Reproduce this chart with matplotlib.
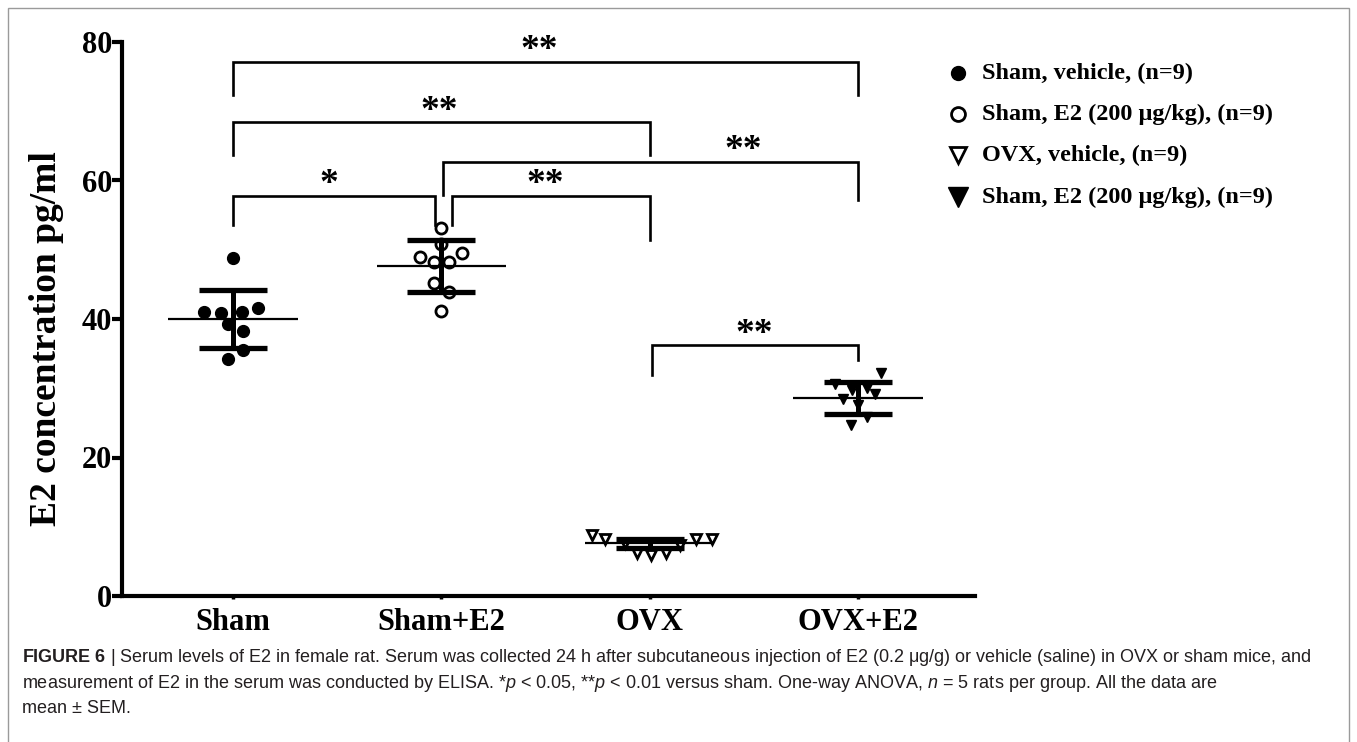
import matplotlib
matplotlib.use("Agg")
import matplotlib.pyplot as plt
from matplotlib.lines import Line2D
from matplotlib.patches import Rectangle
import numpy as np

# ---------------- data ----------------
groups = ["Sham", "Sham+E2", "OVX", "OVX+E2"]

sham_vals = [48.8, 41.0, 40.9, 41.0, 41.6, 39.3, 38.3, 35.5, 34.2]
sham_e2_vals = [53.2, 50.9, 48.9, 48.3, 48.3, 49.5, 45.2, 43.9, 41.2]
ovx_vals = [8.8, 8.2, 6.2, 5.9, 6.2, 8.2, 8.2, 7.6, 7.4]
ovx_e2_vals = [32.2, 30.6, 29.8, 30.0, 29.2, 28.4, 27.6, 25.8, 24.7]

group_means = [40.0, 47.65, 7.6, 28.6]
group_sds = [4.25, 3.7, 0.6, 2.25]

legend_labels = ["Sham, vehicle, (n=9)",
                 "Sham, E2 (200 \u03bcg/kg), (n=9)",
                 "OVX, vehicle, (n=9)",
                 "Sham, E2 (200 \u03bcg/kg), (n=9)"]

# horizontal spread of the dots within each group (layout only)
sham_jitter = [0.0, -0.14, -0.06, 0.045, 0.12, -0.025, 0.05, 0.05, -0.025]
sham_e2_jitter = [0.0, 0.0, -0.1, -0.035, 0.035, 0.1, -0.035, 0.035, 0.0]
ovx_jitter = [-0.275, -0.215, -0.062, 0.005, 0.08, 0.225, 0.30, -0.12, 0.145]
ovx_e2_jitter = [0.11, -0.11, -0.03, 0.045, 0.08, -0.07, 0.0, 0.045, -0.035]

# significance brackets: (x1, x2, bar_y, left_leg_end, right_leg_end, label, label_x)
brackets = [
    (0, 3, 77.1, 72.3, 72.3, "**", 1.47),
    (0, 2, 68.4, 63.7, 63.7, "**", 0.99),
    (1.01, 3, 62.7, 57.9, 57.2, "**", 2.45),
    (0, 0.97, 57.8, 53.6, 53.6, "*", 0.46),
    (1.05, 2, 57.8, 53.6, 51.4, "**", 1.5),
    (2.01, 3, 36.2, 31.9, 34.1, "**", 2.5),
]

caption_lines = [
    "$\\mathbf{FIGURE\\ 6}$ | Serum levels of E2 in female rat. Serum was collected 24 h after subcutaneous "
    "injection of E2 (0.2 \u03bcg/g) or vehicle (saline) in OVX or sham mice, and",
    "measurement of E2 in the serum was conducted by ELISA. *$p$ < 0.05, **$p$ < 0.01 versus sham. "
    "One-way ANOVA, $n$ = 5 rats per group. All the data are",
    "mean \u00b1 SEM.",
]

# ---------------- style ----------------
plt.rcParams["font.family"] = ["Liberation Serif", "DejaVu Serif"]
plt.rcParams["mathtext.fontset"] = "custom"
plt.rcParams["mathtext.rm"] = "Liberation Sans"
plt.rcParams["mathtext.it"] = "Liberation Sans:italic"
plt.rcParams["mathtext.bf"] = "Liberation Sans:bold"

W, H = 1357, 742
fig = plt.figure(figsize=(W / 100, H / 100), dpi=100)
ax = fig.add_axes([122 / W, 1 - 596 / H, (975 - 122) / W, (596 - 42) / H])

xpos = np.arange(len(groups))

series = [
    (sham_vals, sham_jitter, dict(marker="o", ms=8.5, mfc="black", mec="black", mew=1)),
    (sham_e2_vals, sham_e2_jitter, dict(marker="o", ms=8, mfc="white", mec="black", mew=2)),
    (ovx_vals, ovx_jitter, dict(marker="v", ms=7.5, mfc="white", mec="black", mew=2)),
    (ovx_e2_vals, ovx_e2_jitter, dict(marker="v", ms=7, mfc="black", mec="black", mew=1)),
]
for i, (vals, jit, st) in enumerate(series):
    xs = xpos[i] + np.array(jit)
    ax.plot(xs, vals, linestyle="none", zorder=3, clip_on=False, **st)

# mean line and SD error bars
ax.hlines(group_means, xpos - 0.31, xpos + 0.31, color="black", lw=1.6, zorder=4)
ax.errorbar(xpos, group_means, yerr=group_sds, fmt="none", ecolor="black",
            elinewidth=3.6, capsize=24.5, capthick=3.8, zorder=5)

# brackets
for x1, x2, yb, yl, yr, lab, lx in brackets:
    ax.plot([x1, x1, x2, x2], [yl, yb, yb, yr], color="black", lw=1.9,
            solid_joinstyle="miter", clip_on=False, zorder=2)
    ax.text(lx, yb - 0.9, lab, ha="center", va="bottom", fontsize=27,
            fontweight="bold", clip_on=False)

ax.set_xlim(-0.533, 3.562)
ax.set_ylim(0, 80)
ax.set_yticks([0, 20, 40, 60, 80])
ax.set_xticks(xpos)
ax.set_xticklabels(groups)
for s in ["top", "right"]:
    ax.spines[s].set_visible(False)
for s in ["left", "bottom"]:
    ax.spines[s].set_linewidth(3.0)
ax.tick_params(axis="y", direction="out", length=7, width=3.0, pad=0,
               labelsize=22)
ax.tick_params(axis="x", direction="out", length=2.5, width=2.5, pad=6,
               labelsize=22)
for lbl in ax.get_xticklabels() + ax.get_yticklabels():
    lbl.set_fontweight("bold")

ax.set_ylabel("E2 concentration pg/ml", fontsize=27, fontweight="bold")
ax.yaxis.set_label_coords(-0.068, 0.465)

# legend (drawn in figure coordinates)
leg_markers = [
    dict(marker="o", ms=10, mfc="black", mec="black", mew=1),
    dict(marker="o", ms=10, mfc="white", mec="black", mew=2),
    dict(marker="v", ms=11, mfc="white", mec="black", mew=2),
    dict(marker="v", ms=15, mfc="black", mec="black", mew=1),
]
leg_rows = [73, 114, 155, 197]
for st, row, lab in zip(leg_markers, leg_rows, legend_labels):
    yy = 1 - row / H
    fig.add_artist(Line2D([958 / W], [yy], transform=fig.transFigure,
                          linestyle="none", **st))
    fig.text(982 / W, yy, lab, fontsize=17.5, fontweight="bold",
             va="center", ha="left")

# frame
fig.add_artist(Rectangle((8 / W, -0.05), (1349 - 8) / W, 1 - 8 / H + 0.05,
                         transform=fig.transFigure, fill=False,
                         edgecolor="#9a9a9a", lw=1.0))

# caption
cap_y = [662, 688, 713]
for line, yy in zip(caption_lines, cap_y):
    fig.text(22 / W, 1 - yy / H, line, fontsize=13.0, color="#231f20",
             family="Liberation Sans", va="baseline", ha="left")

fig.savefig("out.png", dpi=100)
